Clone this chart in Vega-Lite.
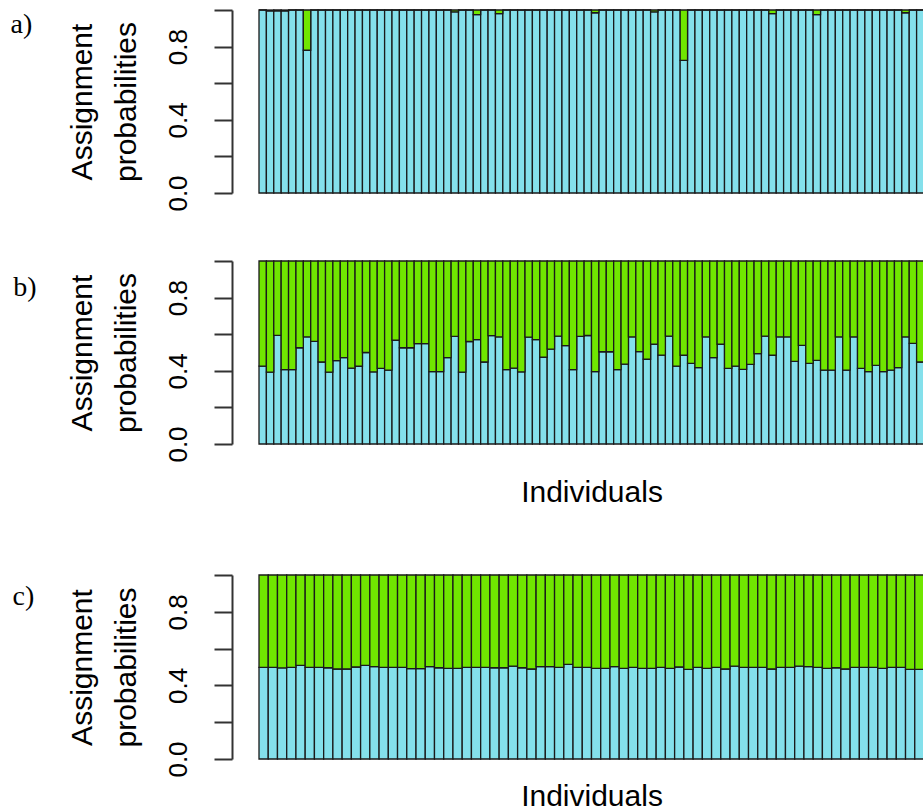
{
  "$schema": "https://vega.github.io/schema/vega-lite/v6.json",
  "padding": {"left": 10, "top": 9, "right": 0, "bottom": 0},
  "config": {"view": {"stroke": null}, "font": "Liberation Sans"},
  "datasets": {
    "a": [
      {"i":0,"p":1},{"i":1,"p":0.995},{"i":2,"p":0.995},{"i":3,"p":0.995},{"i":4,"p":1},{"i":5,"p":1},{"i":6,"p":0.78},{"i":7,"p":1},{"i":8,"p":1},{"i":9,"p":1},
      {"i":10,"p":1},{"i":11,"p":1},{"i":12,"p":1},{"i":13,"p":1},{"i":14,"p":1},{"i":15,"p":1},{"i":16,"p":1},{"i":17,"p":1},{"i":18,"p":1},{"i":19,"p":1},
      {"i":20,"p":1},{"i":21,"p":1},{"i":22,"p":1},{"i":23,"p":1},{"i":24,"p":1},{"i":25,"p":1},{"i":26,"p":0.99},{"i":27,"p":1},{"i":28,"p":1},{"i":29,"p":0.975},
      {"i":30,"p":1},{"i":31,"p":1},{"i":32,"p":0.98},{"i":33,"p":1},{"i":34,"p":1},{"i":35,"p":1},{"i":36,"p":1},{"i":37,"p":1},{"i":38,"p":1},{"i":39,"p":1},
      {"i":40,"p":1},{"i":41,"p":1},{"i":42,"p":1},{"i":43,"p":1},{"i":44,"p":1},{"i":45,"p":0.985},{"i":46,"p":1},{"i":47,"p":1},{"i":48,"p":1},{"i":49,"p":1},
      {"i":50,"p":1},{"i":51,"p":1},{"i":52,"p":1},{"i":53,"p":0.99},{"i":54,"p":1},{"i":55,"p":1},{"i":56,"p":1},{"i":57,"p":0.725},{"i":58,"p":1},{"i":59,"p":1},
      {"i":60,"p":1},{"i":61,"p":1},{"i":62,"p":1},{"i":63,"p":1},{"i":64,"p":1},{"i":65,"p":1},{"i":66,"p":1},{"i":67,"p":1},{"i":68,"p":1},{"i":69,"p":0.98},
      {"i":70,"p":1},{"i":71,"p":1},{"i":72,"p":1},{"i":73,"p":1},{"i":74,"p":1},{"i":75,"p":0.975},{"i":76,"p":1},{"i":77,"p":1},{"i":78,"p":1},{"i":79,"p":1},
      {"i":80,"p":1},{"i":81,"p":1},{"i":82,"p":1},{"i":83,"p":1},{"i":84,"p":1},{"i":85,"p":1},{"i":86,"p":1},{"i":87,"p":0.985},{"i":88,"p":1},{"i":89,"p":1}
    ],
    "b": [
      {"i":0,"p":0.426},{"i":1,"p":0.393},{"i":2,"p":0.594},{"i":3,"p":0.406},{"i":4,"p":0.406},{"i":5,"p":0.526},{"i":6,"p":0.585},{"i":7,"p":0.561},{"i":8,"p":0.448},{"i":9,"p":0.393},
      {"i":10,"p":0.456},{"i":11,"p":0.472},{"i":12,"p":0.415},{"i":13,"p":0.425},{"i":14,"p":0.5},{"i":15,"p":0.394},{"i":16,"p":0.413},{"i":17,"p":0.404},{"i":18,"p":0.567},{"i":19,"p":0.526},
      {"i":20,"p":0.526},{"i":21,"p":0.549},{"i":22,"p":0.548},{"i":23,"p":0.395},{"i":24,"p":0.395},{"i":25,"p":0.472},{"i":26,"p":0.588},{"i":27,"p":0.393},{"i":28,"p":0.56},{"i":29,"p":0.57},
      {"i":30,"p":0.448},{"i":31,"p":0.592},{"i":32,"p":0.585},{"i":33,"p":0.406},{"i":34,"p":0.415},{"i":35,"p":0.394},{"i":36,"p":0.584},{"i":37,"p":0.57},{"i":38,"p":0.474},{"i":39,"p":0.518},
      {"i":40,"p":0.59},{"i":41,"p":0.538},{"i":42,"p":0.406},{"i":43,"p":0.588},{"i":44,"p":0.593},{"i":45,"p":0.395},{"i":46,"p":0.504},{"i":47,"p":0.504},{"i":48,"p":0.406},{"i":49,"p":0.437},
      {"i":50,"p":0.585},{"i":51,"p":0.505},{"i":52,"p":0.463},{"i":53,"p":0.545},{"i":54,"p":0.486},{"i":55,"p":0.59},{"i":56,"p":0.426},{"i":57,"p":0.485},{"i":58,"p":0.441},{"i":59,"p":0.417},
      {"i":60,"p":0.585},{"i":61,"p":0.472},{"i":62,"p":0.545},{"i":63,"p":0.413},{"i":64,"p":0.426},{"i":65,"p":0.408},{"i":66,"p":0.435},{"i":67,"p":0.494},{"i":68,"p":0.59},{"i":69,"p":0.485},
      {"i":70,"p":0.585},{"i":71,"p":0.585},{"i":72,"p":0.452},{"i":73,"p":0.539},{"i":74,"p":0.441},{"i":75,"p":0.457},{"i":76,"p":0.404},{"i":77,"p":0.404},{"i":78,"p":0.585},{"i":79,"p":0.404},
      {"i":80,"p":0.585},{"i":81,"p":0.413},{"i":82,"p":0.395},{"i":83,"p":0.43},{"i":84,"p":0.395},{"i":85,"p":0.404},{"i":86,"p":0.417},{"i":87,"p":0.585},{"i":88,"p":0.55},{"i":89,"p":0.448}
    ],
    "c": [
      {"i":0,"p":0.498},{"i":1,"p":0.498},{"i":2,"p":0.495},{"i":3,"p":0.498},{"i":4,"p":0.509},{"i":5,"p":0.498},{"i":6,"p":0.498},{"i":7,"p":0.496},{"i":8,"p":0.489},{"i":9,"p":0.489},
      {"i":10,"p":0.5},{"i":11,"p":0.509},{"i":12,"p":0.502},{"i":13,"p":0.498},{"i":14,"p":0.498},{"i":15,"p":0.498},{"i":16,"p":0.491},{"i":17,"p":0.491},{"i":18,"p":0.502},{"i":19,"p":0.496},
      {"i":20,"p":0.493},{"i":21,"p":0.493},{"i":22,"p":0.498},{"i":23,"p":0.498},{"i":24,"p":0.498},{"i":25,"p":0.496},{"i":26,"p":0.496},{"i":27,"p":0.505},{"i":28,"p":0.496},{"i":29,"p":0.489},
      {"i":30,"p":0.502},{"i":31,"p":0.502},{"i":32,"p":0.498},{"i":33,"p":0.514},{"i":34,"p":0.498},{"i":35,"p":0.498},{"i":36,"p":0.493},{"i":37,"p":0.493},{"i":38,"p":0.502},{"i":39,"p":0.493},
      {"i":40,"p":0.498},{"i":41,"p":0.493},{"i":42,"p":0.493},{"i":43,"p":0.498},{"i":44,"p":0.493},{"i":45,"p":0.5},{"i":46,"p":0.487},{"i":47,"p":0.498},{"i":48,"p":0.493},{"i":49,"p":0.498},
      {"i":50,"p":0.489},{"i":51,"p":0.505},{"i":52,"p":0.498},{"i":53,"p":0.498},{"i":54,"p":0.498},{"i":55,"p":0.489},{"i":56,"p":0.498},{"i":57,"p":0.498},{"i":58,"p":0.505},{"i":59,"p":0.502},
      {"i":60,"p":0.498},{"i":61,"p":0.493},{"i":62,"p":0.496},{"i":63,"p":0.489},{"i":64,"p":0.498},{"i":65,"p":0.498},{"i":66,"p":0.498},{"i":67,"p":0.493},{"i":68,"p":0.498},{"i":69,"p":0.498},
      {"i":70,"p":0.487},{"i":71,"p":0.487}
    ]
  },
  "spacing": 67,
  "vconcat": [
    {
      "spacing": 48,
      "vconcat": [
        {
          "width": 665, "height": 183,
          "data": {"name": "a"},
          "title": {"text": "a)", "orient": "left", "anchor": "end", "angle": 0, "align": "right", "baseline": "top", "font": "Liberation Serif", "fontSize": 28, "fontWeight": "normal", "color": "black", "offset": 13, "dy": 2},
          "encoding": {
            "x": {"field": "i", "type": "ordinal", "scale": {"paddingInner": 0, "paddingOuter": 0}, "axis": null},
            "y": {"field": "p", "type": "quantitative", "scale": {"domain": [0, 1], "nice": false, "zero": true},
              "axis": {"values": [0, 0.2, 0.4, 0.6, 0.8, 1], "labelExpr": "datum.value == 0 ? '0.0' : (abs(datum.value - 0.4) < 0.001 ? '0.4' : (abs(datum.value - 0.8) < 0.001 ? '0.8' : ''))", "labelAngle": -90, "labelAlign": "center", "labelBaseline": "bottom", "labelFontSize": 26, "labelFont": "Liberation Sans", "labelColor": "black", "labelPadding": 23, "labelFlush": false, "labelOverlap": false, "tickSize": 18, "tickWidth": 2, "tickColor": "#333333", "domainColor": "#333333", "domainWidth": 2, "offset": 27, "grid": false, "title": ["Assignment", "probabilities"], "titleFont": "Liberation Sans", "titleFontSize": 30, "titleFontWeight": "normal", "titleColor": "black", "titleLineHeight": 44, "titlePadding": 24}}
          },
          "layer": [
            {"mark": {"type": "bar", "fill": "#84E0EB", "stroke": "#1a1a1a", "strokeWidth": 1.3}},
            {"mark": {"type": "bar", "fill": "#70E600", "stroke": "#1a1a1a", "strokeWidth": 1.3}, "encoding": {"y2": {"datum": 1}}}
          ]
        },
        {
          "width": 665, "height": 183,
          "data": {"name": "b"},
          "title": {"text": "b)", "orient": "left", "anchor": "end", "angle": 0, "align": "right", "baseline": "top", "font": "Liberation Serif", "fontSize": 28, "fontWeight": "normal", "color": "black", "offset": 7, "dy": 14},
          "encoding": {
            "x": {"field": "i", "type": "ordinal", "scale": {"paddingInner": 0, "paddingOuter": 0}, "axis": {"title": "Individuals", "labels": false, "ticks": false, "domain": false, "titleFont": "Liberation Sans", "titleFontSize": 30, "titleFontWeight": "normal", "titleColor": "black", "titlePadding": 33}},
            "y": {"field": "p", "type": "quantitative", "scale": {"domain": [0, 1], "nice": false, "zero": true},
              "axis": {"values": [0, 0.2, 0.4, 0.6, 0.8, 1], "labelExpr": "datum.value == 0 ? '0.0' : (abs(datum.value - 0.4) < 0.001 ? '0.4' : (abs(datum.value - 0.8) < 0.001 ? '0.8' : ''))", "labelAngle": -90, "labelAlign": "center", "labelBaseline": "bottom", "labelFontSize": 26, "labelFont": "Liberation Sans", "labelColor": "black", "labelPadding": 23, "labelFlush": false, "labelOverlap": false, "tickSize": 18, "tickWidth": 2, "tickColor": "#333333", "domainColor": "#333333", "domainWidth": 2, "offset": 27, "grid": false, "title": ["Assignment", "probabilities"], "titleFont": "Liberation Sans", "titleFontSize": 30, "titleFontWeight": "normal", "titleColor": "black", "titleLineHeight": 44, "titlePadding": 24}}
          },
          "layer": [
            {"mark": {"type": "bar", "fill": "#84E0EB", "stroke": "#1a1a1a", "strokeWidth": 1.3}},
            {"mark": {"type": "bar", "fill": "#70E600", "stroke": "#1a1a1a", "strokeWidth": 1.3}, "encoding": {"y2": {"datum": 1}}}
          ]
        }
      ]
    },
    {
      "width": 665, "height": 184,
      "data": {"name": "c"},
      "title": {"text": "c)", "orient": "left", "anchor": "end", "angle": 0, "align": "right", "baseline": "top", "font": "Liberation Serif", "fontSize": 28, "fontWeight": "normal", "color": "black", "offset": 11, "dy": 9},
      "encoding": {
        "x": {"field": "i", "type": "ordinal", "scale": {"paddingInner": 0, "paddingOuter": 0}, "axis": {"title": "Individuals", "labels": false, "ticks": false, "domain": false, "titleFont": "Liberation Sans", "titleFontSize": 30, "titleFontWeight": "normal", "titleColor": "black", "titlePadding": 22}},
        "y": {"field": "p", "type": "quantitative", "scale": {"domain": [0, 1], "nice": false, "zero": true},
          "axis": {"values": [0, 0.2, 0.4, 0.6, 0.8, 1], "labelExpr": "datum.value == 0 ? '0.0' : (abs(datum.value - 0.4) < 0.001 ? '0.4' : (abs(datum.value - 0.8) < 0.001 ? '0.8' : ''))", "labelAngle": -90, "labelAlign": "center", "labelBaseline": "bottom", "labelFontSize": 26, "labelFont": "Liberation Sans", "labelColor": "black", "labelPadding": 23, "labelFlush": false, "labelOverlap": false, "tickSize": 18, "tickWidth": 2, "tickColor": "#333333", "domainColor": "#333333", "domainWidth": 2, "offset": 27, "grid": false, "title": ["Assignment", "probabilities"], "titleFont": "Liberation Sans", "titleFontSize": 30, "titleFontWeight": "normal", "titleColor": "black", "titleLineHeight": 44, "titlePadding": 24}}
      },
      "layer": [
        {"mark": {"type": "bar", "fill": "#84E0EB", "stroke": "#1a1a1a", "strokeWidth": 1.3}},
        {"mark": {"type": "bar", "fill": "#70E600", "stroke": "#1a1a1a", "strokeWidth": 1.3}, "encoding": {"y2": {"datum": 1}}}
      ]
    }
  ]
}
